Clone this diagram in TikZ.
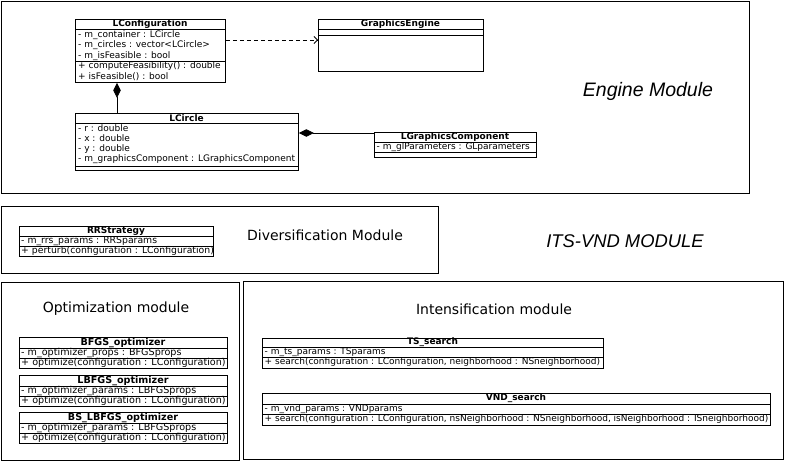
\documentclass[tikz,border=0pt]{standalone}
\usepackage{fontspec}
\setmainfont{DejaVu Sans}
\newfontfamily\labfont{Liberation Sans}
\usetikzlibrary{arrows.meta,calc}
\tikzset{
  cls/.style={draw, line width=0.8pt, rectangle, inner sep=0pt, anchor=north west},
  modbox/.style={draw, line width=0.9pt, rectangle, inner sep=0pt, anchor=north west},
  sepl/.style={line width=0.8pt},
  ttl/.style={inner sep=0pt, font=\fontsize{9}{10}\selectfont\bfseries},
  row/.style={inner sep=0pt, anchor=west, font=\fontsize{9}{10}\selectfont},
  rowb/.style={row, font=\fontsize{9.3}{10}\selectfont},
  rowc/.style={row, font=\fontsize{9.6}{10}\selectfont},
  ttlc/.style={ttl, font=\fontsize{9.6}{10}\selectfont\bfseries},
  modlab/.style={inner sep=0pt, font=\fontsize{14}{16}\selectfont},
  itlab/.style={inner sep=0pt, font=\fontsize{18.4}{20}\labfont\itshape},
  comp/.style={line width=0.8pt, {Diamond[length=15pt,width=7.5pt]}-},
  dep/.style={line width=0.8pt, dashed, dash pattern=on 4pt off 3pt, -{Straight Barb[length=3.5pt,width=7pt]}}
}
\newcommand\sepline[2]{\draw[sepl] (#1.west |- 0,#2) -- (#1.east |- 0,#2);}
\begin{document}
\begin{tikzpicture}[x=1pt,y=-1pt]
\useasboundingbox (0,0) rectangle (786,461);
% modules
\node[modbox, minimum width=748pt, minimum height=192pt] (engine) at (1,1) {};
\node[modbox, minimum width=437pt, minimum height=67pt] (divmod) at (1,206) {};
\node[modbox, minimum width=238pt, minimum height=178pt] (optmod) at (1,282) {};
\node[modbox, minimum width=540pt, minimum height=178pt] (intmod) at (243,281) {};
\node[itlab, font=\fontsize{19.5}{21}\labfont\itshape] (englab) at (648,91) {Engine Module};
\node[itlab] (itslab) at (625,241) {ITS-VND MODULE};
\node[modlab] (divlab) at (325,235) {Diversification Module};
\node[modlab] (optlab) at (116,309) {Optimization module};
\node[modlab] (intlab) at (494,309) {Intensification module};

% LConfiguration
\node[cls, minimum width=150pt, minimum height=63pt] (lconf) at (75,19) {};
\sepline{lconf}{29}\sepline{lconf}{61}
\node[ttl] (lconft) at (150,24) {LConfiguration};
\node[row] (lconfa) at (78,35) {- m\_container : LCircle};
\node[row] (lconfb) at (78,45.5) {- m\_circles : vector<LCircle>};
\node[row] (lconfc) at (78,56) {- m\_isFeasible : bool};
\node[row] (lconfd) at (78,66.5) {+ computeFeasibility() : double};
\node[row] (lconfe) at (78,77) {+ isFeasible() : bool};

% GraphicsEngine
\node[cls, minimum width=165pt, minimum height=52pt] (ge) at (318,19) {};
\sepline{ge}{29}\sepline{ge}{35}
\node[ttl] (get) at (400.5,24) {GraphicsEngine};

% LCircle
\node[cls, minimum width=223pt, minimum height=57pt] (lcirc) at (75,113) {};
\sepline{lcirc}{123}\sepline{lcirc}{166}
\node[ttl] (lcirct) at (186.5,118) {LCircle};
\node[row] (lcirca) at (78,128.5) {- r : double};
\node[row] (lcircb) at (78,138.5) {- x : double};
\node[row] (lcircc) at (78,149) {- y : double};
\node[row] (lcircd) at (78,159.5) {- m\_graphicsComponent : LGraphicsComponent};

% LGraphicsComponent
\node[cls, minimum width=162pt, minimum height=25pt] (lgc) at (374,132) {};
\sepline{lgc}{142}\sepline{lgc}{152}
\node[ttl] (lgct) at (455,137) {LGraphicsComponent};
\node[row] (lgca) at (376.5,147) {- m\_glParameters : GLparameters};

% RRStrategy
\node[cls, minimum width=194pt, minimum height=30pt] (rr) at (19,226) {};
\sepline{rr}{236}\sepline{rr}{246}
\node[ttl] (rrt) at (116,231) {RRStrategy};
\node[rowb] (rra) at (21,241) {- m\_rrs\_params : RRSparams};
\node[rowb] (rrb) at (21,251) {+ perturb(configuration : LConfiguration)};

% BFGS
\node[cls, minimum width=208pt, minimum height=31pt] (bfgs) at (19,337) {};
\sepline{bfgs}{348}\sepline{bfgs}{358}
\node[ttlc] (bfgst) at (123,342.5) {BFGS\_optimizer};
\node[rowc] (bfgsa) at (21,353) {- m\_optimizer\_props : BFGSprops};
\node[rowc] (bfgsb) at (21,363) {+ optimize(configuration : LConfiguration)};

% LBFGS
\node[cls, minimum width=208pt, minimum height=31pt] (lbfgs) at (19,375) {};
\sepline{lbfgs}{386}\sepline{lbfgs}{396}
\node[ttlc] (lbfgst) at (123,380.5) {LBFGS\_optimizer};
\node[rowc] (lbfgsa) at (21,391) {- m\_optimizer\_params : LBFGSprops};
\node[rowc] (lbfgsb) at (21,401) {+ optimize(configuration : LConfiguration)};

% BS_LBFGS
\node[cls, minimum width=208pt, minimum height=31pt] (bslbfgs) at (19,412) {};
\sepline{bslbfgs}{423}\sepline{bslbfgs}{433}
\node[ttlc] (bslbfgst) at (123,417.5) {BS\_LBFGS\_optimizer};
\node[rowc] (bslbfgsa) at (21,428) {- m\_optimizer\_params : LBFGSprops};
\node[rowc] (bslbfgsb) at (21,438) {+ optimize(configuration : LConfiguration)};

% TS_search
\node[cls, minimum width=341pt, minimum height=30pt] (ts) at (262,338) {};
\sepline{ts}{347}\sepline{ts}{357}
\node[ttl] (tst) at (432.5,342.5) {TS\_search};
\node[row] (tsa) at (264.5,352) {- m\_ts\_params : TSparams};
\node[row] (tsb) at (264.5,362.5) {+ search(configuration : LConfiguration, neighborhood : NSneighborhood)};

% VND_search
\node[cls, minimum width=508pt, minimum height=32pt] (vnd) at (262,393) {};
\sepline{vnd}{404}\sepline{vnd}{414}
\node[ttl] (vndt) at (516,398.5) {VND\_search};
\node[row] (vnda) at (264.5,409) {- m\_vnd\_params : VNDparams};
\node[row] (vndb) at (264.5,419.5) {+ search(configuration : LConfiguration, nsNeighborhood : NSneighborhood, isNeighborhood : ISneighborhood)};

% connectors
\draw[dep] (lconf.east |- 0,40) -- (ge.west |- 0,40);
\draw[comp] (lconf.south -| 117,0) -- (lcirc.north -| 117,0);
\draw[comp] (lcirc.east |- 0,133) -- (lgc.west |- 0,133);
\end{tikzpicture}
\end{document}
